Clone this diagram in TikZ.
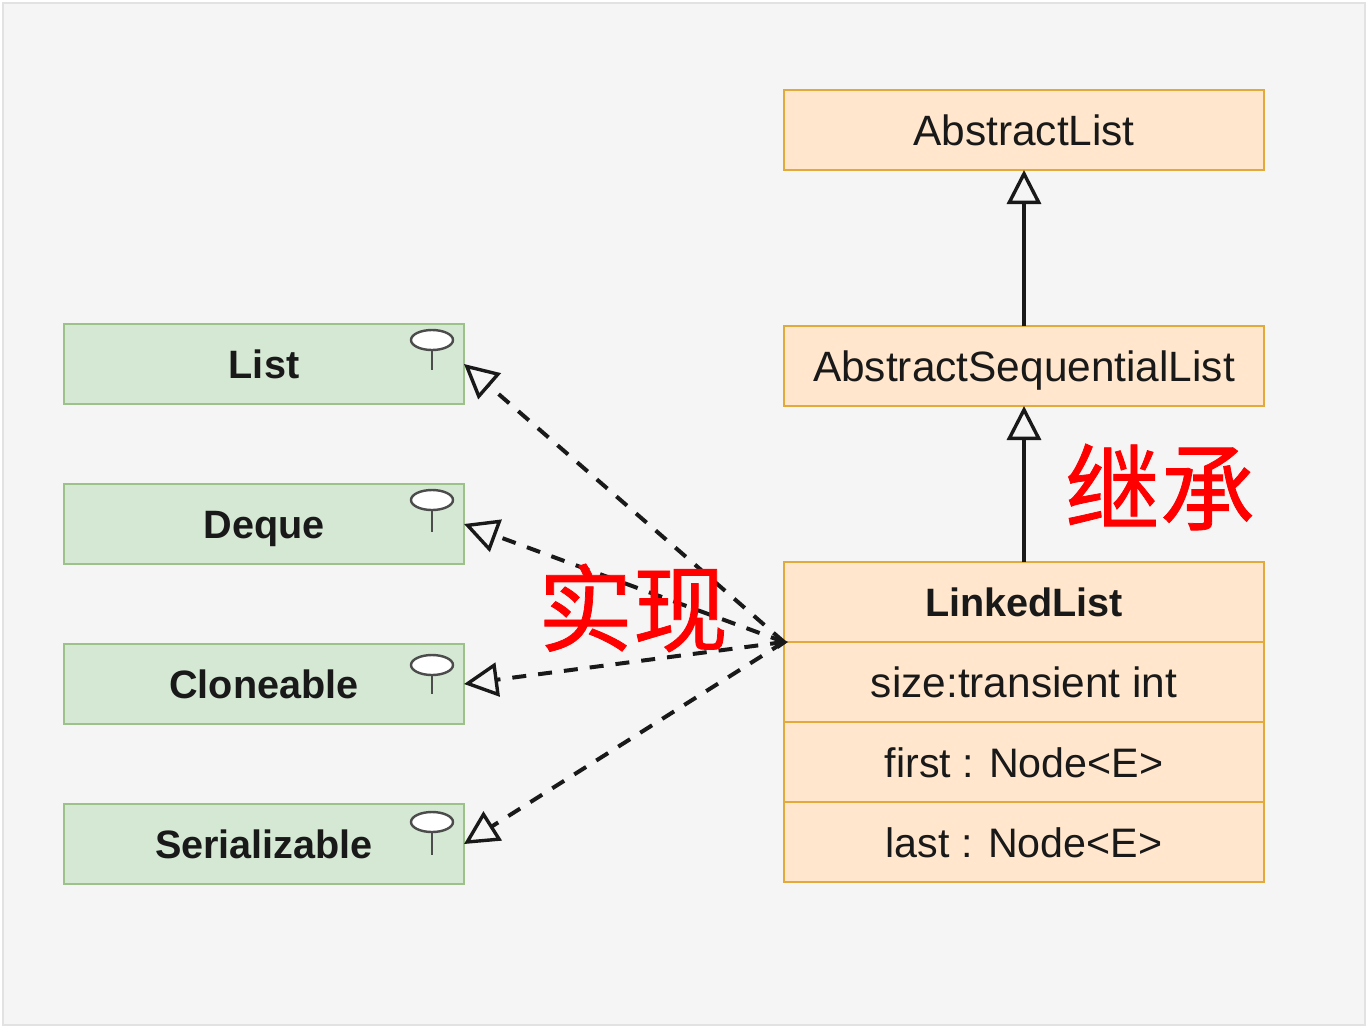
\documentclass[tikz,border=0pt]{standalone}
\usepackage{fontspec}
\setmainfont{Liberation Sans}
\newfontfamily\cjk[FakeBold=.8]{Noto Sans CJK SC}
\usepackage{xcolor}
\usetikzlibrary{arrows.meta, shapes.geometric}
\definecolor{pagecol}{HTML}{F5F5F5}
\definecolor{framecol}{HTML}{E2E2E2}
\definecolor{greenfill}{HTML}{D5E8D4}
\definecolor{greenline}{HTML}{9CC28A}
\definecolor{orangefill}{HTML}{FFE6CC}
\definecolor{orangeline}{HTML}{E2A93B}
\tikzset{
  box/.style={draw, rectangle, line width=1pt, inner sep=0pt, outer sep=0pt,
    minimum height=40pt, text height=18pt, text depth=3pt, text=black!90,
    font=\fontsize{21.2}{24}\selectfont},
  iface/.style={box, fill=greenfill, draw=greenline, minimum width=200pt,
    text height=17.5pt, font=\fontsize{19.8}{24}\selectfont\bfseries},
  cls/.style={box, fill=orangefill, draw=orangeline, minimum width=240pt},
  hollow/.style={-{Triangle[open, length=17pt, width=17pt, line width=1.7pt]}},
  extends/.style={hollow, line width=1.7pt, black!90},
  implements/.style={hollow, line width=2pt, black!90, dash pattern=on 7pt off 6pt},
  pinhead/.style={draw=black!70, fill=white, ellipse, line width=1.2pt, inner sep=0pt,
    outer sep=0pt, minimum width=21pt, minimum height=10pt},
  tag/.style={text=red, inner sep=0pt, font=\fontsize{47.5}{50}\selectfont\cjk}
}
\begin{document}
\begin{tikzpicture}[x=.5pt,y=-.5pt]
\useasboundingbox (0,0) rectangle (1369,1029);
\fill[framecol] (2,2) rectangle (1366,1026);
\fill[pagecol] (4,4) rectangle (1364,1024);
  % Node: interfaces
\node[iface] (list) at (264,364) {List};
\node[iface] (deque) at (264,524) {Deque};
\node[iface] (cloneable) at (264,684) {Cloneable};
\node[iface] (serializable) at (264,844) {Serializable};
  % Node: pins
\foreach \name/\head/\stem in {list/340/370, deque/500/532, cloneable/665/694, serializable/822/855} {
  \node[pinhead] (\name head) at (432,\head) {};
  \coordinate (\name stem) at (432,\stem);
  \draw[black!70, line width=1.2pt] (\name head.south) -- (\name stem);
}
  % Node: classes
\node[cls] (abstractlist) at (1024,130) {AbstractList};
\node[cls] (sequential) at (1024,366) {AbstractSequentialList};
\node[cls, text height=17.5pt, font=\fontsize{19.8}{24}\selectfont\bfseries] (linkedlist) at (1024,602) {LinkedList};
\node[cls] (size) at (1024,682) {size:transient int};
\node[cls, font=\fontsize{20.6}{24}\selectfont] (first) at (1024,762) {first : Node<E>};
\node[cls, font=\fontsize{20.6}{24}\selectfont] (last) at (1024,842) {last : Node<E>};
  % Edge: inheritance
\draw[extends] (linkedlist.north) -- (sequential.south);
\draw[extends] (sequential.north) -- (abstractlist.south);
  % Edge: realization
\coordinate (joint) at (linkedlist.south west);
\foreach \name in {list, deque, cloneable, serializable} {
  \draw[implements] (joint) -- (\name.east);
}
\fill[black!90] (joint) ++(4,0) -- ++(-11,-6) -- ++(1,13) -- cycle;
  % Node: tags
\node[tag] (realize) at (633,608) {实现};
\node[tag] (inherit) at (1160,487) {继承};
\end{tikzpicture}
\end{document}
